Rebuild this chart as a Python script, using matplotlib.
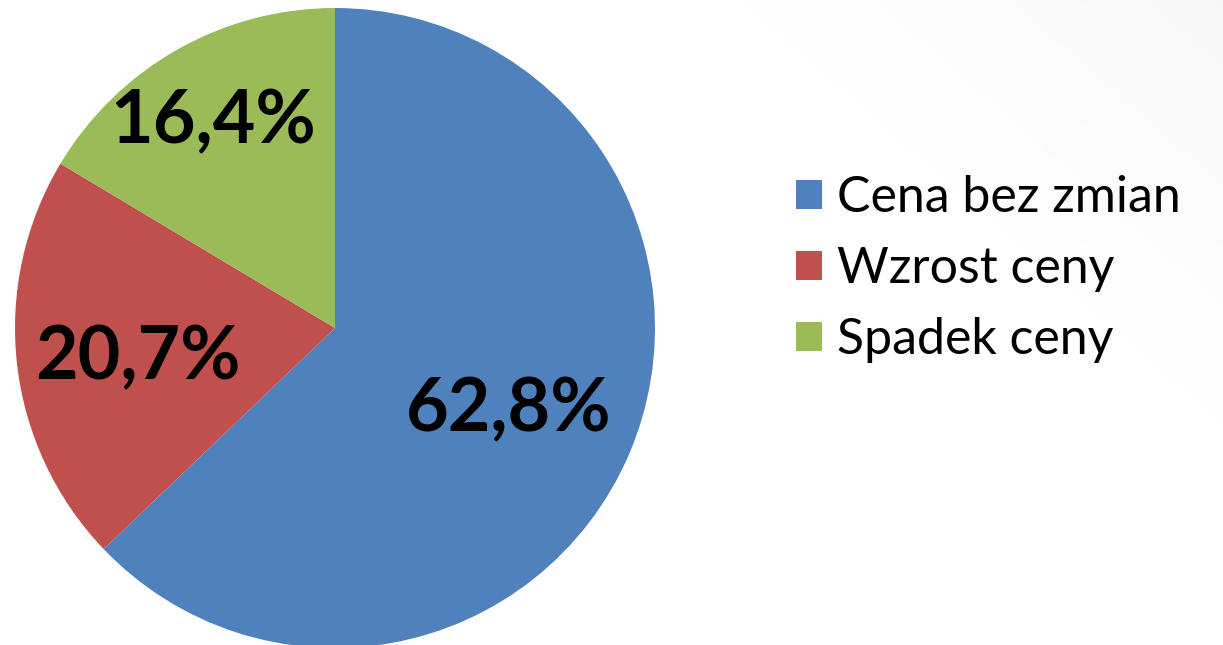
import numpy as np
import matplotlib
matplotlib.use("Agg")
import matplotlib.pyplot as plt

categories = ["Cena bez zmian", "Wzrost ceny", "Spadek ceny"]
values = [62.8, 20.7, 16.4]
colors = ["#4F81BD", "#C0504D", "#9BBB59"]
label_radius = [0.59, 0.62, 0.77]

W, H = 1223, 645
fig = plt.figure(figsize=(W / 100, H / 100), dpi=100)

# subtle background gradient (white -> light gray toward bottom-right)
bg = fig.add_axes([0, 0, 1, 1])
xx, yy = np.meshgrid(np.linspace(0, 1, 300), np.linspace(0, 1, 200))
g = np.clip((xx * 1.0 - yy * 0.6 - 0.55) / 0.5, 0, 1)
img = 1.0 - 0.035 * g
bg.imshow(img, cmap="gray", vmin=0, vmax=1, extent=[0, 1, 0, 1], aspect="auto", origin="upper")
bg.axis("off")

cx, cy, r = 335, H - 328, 320
ax = fig.add_axes([(cx - r) / W, (cy - r) / H, 2 * r / W, 2 * r / H])
wedges, _ = ax.pie(values, colors=colors, startangle=90, counterclock=False,
                   radius=1.0, wedgeprops=dict(linewidth=0))
ax.set_xlim(-1, 1)
ax.set_ylim(-1, 1)
ax.set_aspect("equal")
ax.axis("off")

for w, v, rr in zip(wedges, values, label_radius):
    ang = np.deg2rad((w.theta1 + w.theta2) / 2)
    ax.text(rr * np.cos(ang), rr * np.sin(ang) - 0.025, f"{v:.1f}%".replace(".", ","),
            ha="center", va="center", fontsize=53, fontweight="bold",
            family="Lato", color="black")

leg = fig.legend(wedges, categories, loc="upper left",
                 bbox_to_anchor=(796 / W, 1 - 175 / H), frameon=False,
                 prop=dict(family="Lato", size=36),
                 handlelength=0.52, handleheight=0.52, handletextpad=0.3,
                 labelspacing=0.5, borderaxespad=0, borderpad=0)

fig.savefig("out.png", dpi=100)
